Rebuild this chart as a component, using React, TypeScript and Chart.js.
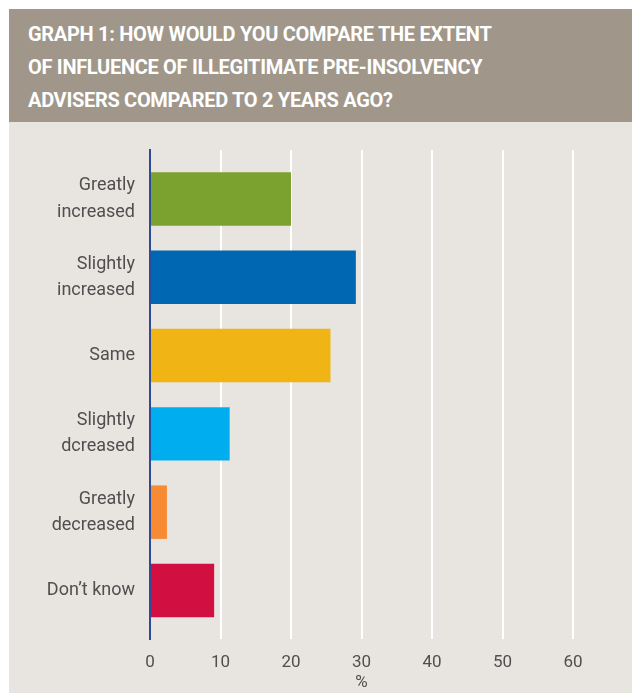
import React, { useEffect, useRef } from "react";
import { Chart, registerables } from "chart.js";

Chart.register(...registerables);

const titleLines = [
  "GRAPH 1: HOW WOULD YOU COMPARE THE EXTENT",
  "OF INFLUENCE OF ILLEGITIMATE PRE-INSOLVENCY",
  "ADVISERS COMPARED TO 2 YEARS AGO?",
];

const categories: string[][] = [
  ["Greatly", "increased"],
  ["Slightly", "increased"],
  ["Same"],
  ["Slightly", "dcreased"],
  ["Greatly", "decreased"],
  ["Don\u2019t know"],
];

const values = [20, 29.2, 25.6, 11.3, 2.4, 9.1];

const barColors = ["#7ba22f", "#0068b3", "#f0b414", "#00aeef", "#f68b33", "#d10f40"];

const xTicks = [0, 10, 20, 30, 40, 50, 60];
const xTitle = "%";

const TEXT = "#4f4f4f";
const FONT = "Roboto, 'DejaVu Sans', sans-serif";

export default function App() {
  const canvasRef = useRef<HTMLCanvasElement | null>(null);

  useEffect(() => {
    const canvas = canvasRef.current;
    if (!canvas) return;
    const chart = new Chart(canvas, {
      type: "bar",
      data: {
        datasets: [
          {
            data: values.map((v, i) => ({ x: v, y: i })),
            backgroundColor: barColors,
            borderWidth: 0,
            categoryPercentage: 1,
            barPercentage: 0.683,
          },
        ],
      },
      options: {
        indexAxis: "y",
        animation: false,
        responsive: true,
        maintainAspectRatio: false,
        layout: { padding: { left: 0, right: 59, top: 28, bottom: 0 } },
        plugins: {
          legend: { display: false },
          tooltip: { enabled: false },
        },
        scales: {
          x: {
            type: "linear",
            position: "bottom",
            min: xTicks[0],
            max: xTicks[xTicks.length - 1],
            offset: false,
            afterBuildTicks: (scale: any) => {
              scale.ticks = xTicks.map((v) => ({ value: v }));
            },
            afterFit: (scale: any) => {
              scale.height = 54;
            },
            grid: {
              color: "#ffffff",
              lineWidth: 2,
              drawTicks: false,
              offset: false,
            },
            border: { display: false },
            ticks: {
              color: TEXT,
              font: { family: FONT, size: 17 },
              padding: 14,
            },
            title: {
              display: true,
              text: xTitle,
              color: TEXT,
              font: { family: FONT, size: 17 },
              padding: { top: 0, bottom: 0 },
            },
          },
          y: {
            type: "linear",
            reverse: true,
            offset: false,
            min: -0.625,
            max: 5.62,
            afterBuildTicks: (scale: any) => {
              scale.ticks = categories.map((_, i) => ({ value: i }));
            },
            afterFit: (scale: any) => {
              scale.width = 141;
            },
            grid: { display: false, drawTicks: false, offset: false },
            border: { display: true, color: "#2f4a9b", width: 2, z: 1 },
            ticks: {
              color: TEXT,
              font: { family: FONT, size: 18, lineHeight: 1.45 },
              padding: 15,
              callback: (v: any) => categories[Number(v)] ?? "",
            },
          },
        },
      },
    });
    return () => chart.destroy();
  }, []);

  return (
    <div
      style={{
        position: "absolute",
        left: 9,
        top: 9,
        width: 623,
        height: 684,
        background: "#e8e5e1",
        overflow: "hidden",
      }}
    >
      <div
        style={{
          height: 113,
          background: "#a0978a",
          color: "#ffffff",
          boxSizing: "border-box",
          padding: "9px 0 0 19px",
          fontFamily: FONT,
          fontWeight: 700,
          fontSize: 20,
          letterSpacing: "-0.3px",
          lineHeight: "33px",
          whiteSpace: "nowrap",
        }}
      >
        {titleLines.map((t, i) => (
          <div key={i}>{t}</div>
        ))}
      </div>
      <div style={{ position: "relative", width: 623, height: 571 }}>
        <canvas ref={canvasRef} />
      </div>
    </div>
  );
}
